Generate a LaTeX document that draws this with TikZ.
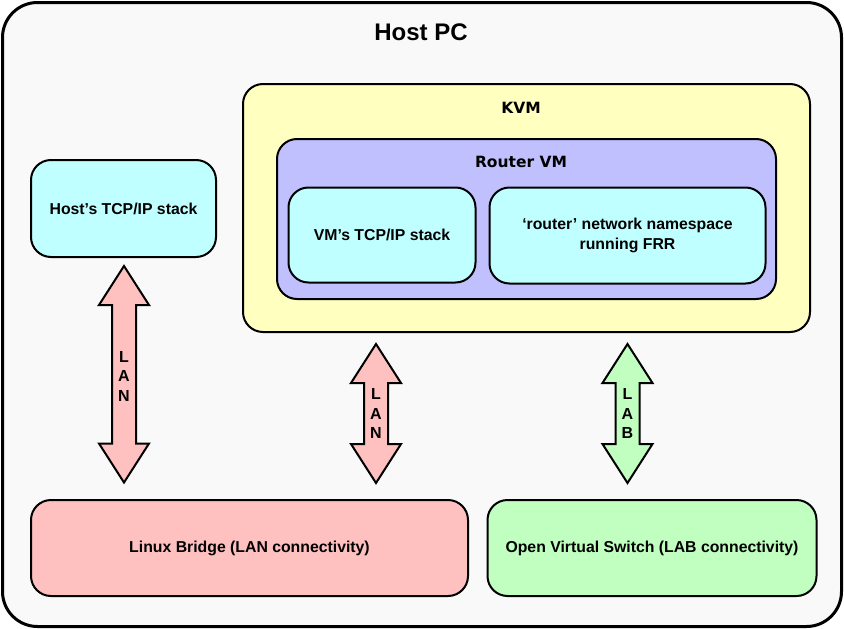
\documentclass[tikz,border=0pt]{standalone}
\usepackage{fontspec}
\setmainfont{Liberation Sans}
\newfontfamily\dejavu{DejaVu Sans}
\definecolor{outerfill}{HTML}{F9F9F9}
\definecolor{yellowbox}{HTML}{FFFFC0}
\definecolor{lavbox}{HTML}{C0C0FF}
\definecolor{cyanbox}{HTML}{C0FFFF}
\definecolor{pinkbox}{HTML}{FFC0C0}
\definecolor{greenbox}{HTML}{C0FFC0}
\tikzset{
  box/.style={draw=black, line width=2pt, rounded corners=20pt, inner sep=0pt, align=center,
    font=\fontsize{15.8}{20}\selectfont\bfseries},
  title/.style={font=\fontsize{24}{28}\selectfont\bfseries, inner sep=0pt},
  dvlabel/.style={font=\dejavu\fontsize{15.5}{19}\selectfont\bfseries, inner sep=0pt},
  arrlabel/.style={font=\fontsize{16}{19.5}\selectfont\bfseries, align=center, inner sep=0pt},
  arr/.style={draw=black, line width=2pt, line join=miter},
}
\newcommand\dblarr[4]{%
  \filldraw[arr, fill=#4] (#1,#2) -- (#1+25,#2+39) -- (#1+12,#2+39) -- (#1+12,#3-39) -- (#1+25,#3-39) -- (#1,#3) -- (#1-25,#3-39) -- (#1-12,#3-39) -- (#1-12,#2+39) -- (#1-25,#2+39) -- cycle;}
\begin{document}
\begin{tikzpicture}[x=1pt,y=-1pt]
\useasboundingbox (0,0) rectangle (844,629);
% outer host box
\node[box, line width=3pt, rounded corners=35pt, fill=outerfill, minimum width=839pt, minimum height=624pt] (host) at (422,314.5) {};
\node[title] (hosttitle) at (421,32) {Host PC};
% KVM
\node[box, fill=yellowbox, minimum width=567pt, minimum height=248pt] (kvm) at (526.5,208) {};
\node[dvlabel] (kvmlabel) at (521,108) {KVM};
% Router VM
\node[box, fill=lavbox, minimum width=499pt, minimum height=160pt] (rvm) at (526.5,219) {};
\node[dvlabel] (rvmlabel) at (521,162) {Router VM};
% inner boxes
\node[box, fill=cyanbox, minimum width=187pt, minimum height=95pt] (vmstack) at (382,235) {VM’s TCP/IP stack};
\node[box, fill=cyanbox, minimum width=276pt, minimum height=96pt] (ns) at (627.5,235.5) {‘router’ network namespace\\running FRR};
\node[box, fill=cyanbox, minimum width=185pt, minimum height=97pt] (hoststack) at (123.5,208.5) {Host’s TCP/IP stack};
% bottom boxes
\node[box, fill=pinkbox, minimum width=437pt, minimum height=96pt] (bridge) at (249.5,548) {Linux Bridge (LAN connectivity)};
\node[box, fill=greenbox, minimum width=329pt, minimum height=96pt] (ovs) at (652,548) {Open Virtual Switch (LAB connectivity)};
% arrows
\dblarr{124}{266}{482.5}{pinkbox}
\node[arrlabel] (lan1) at (124,376) {L\\A\\N};
\dblarr{376}{344}{483}{pinkbox}
\node[arrlabel] (lan2) at (376,413.5) {L\\A\\N};
\dblarr{627.5}{344}{483}{greenbox}
\node[arrlabel] (lab) at (627.5,413.5) {L\\A\\B};
\end{tikzpicture}
\end{document}
